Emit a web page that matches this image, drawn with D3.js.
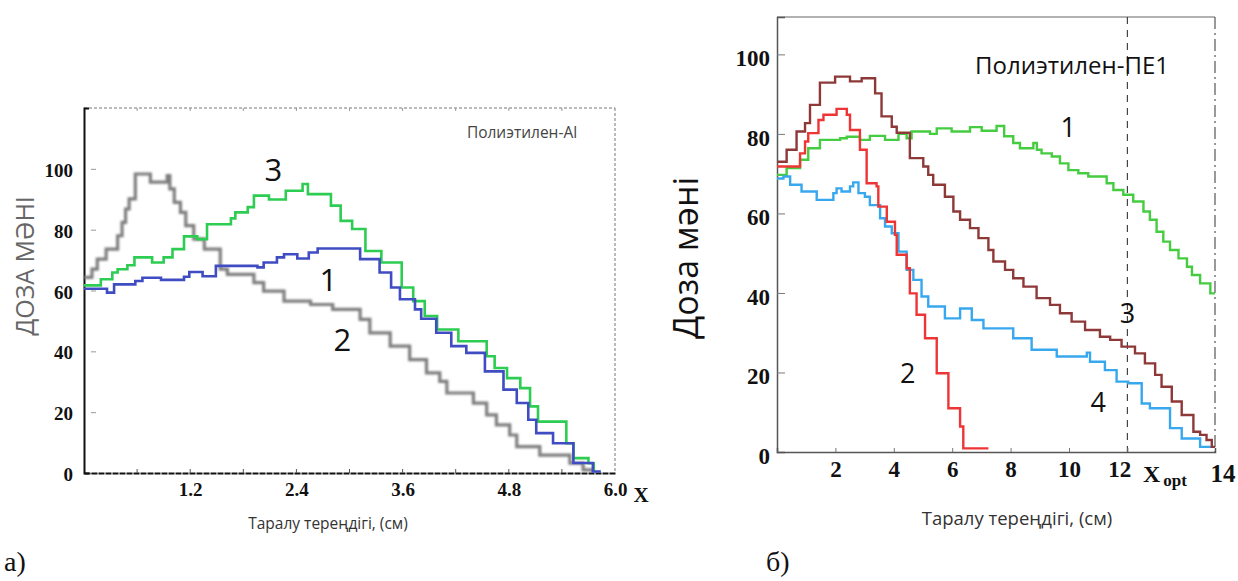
<!DOCTYPE html>
<html>
<head>
<meta charset="utf-8">
<script src="https://cdn.jsdelivr.net/npm/d3@7/dist/d3.min.js"></script>
<style>
  body { margin: 0; background: #fff; }
  svg { display: block; }
  .tick-num { font-family: "Liberation Serif", "Times New Roman", serif; font-weight: bold; fill: #111; }
  .sans { font-family: "Open Sans", "Noto Sans", sans-serif; }
</style>
</head>
<body>
<div id="chart"></div>
<script>
// ---- data, panel a) Полиэтилен-Al : [depth, dose] step starts
var alCurve1 = [[0,60.6],[0.26,59.3],[0.34,62],[0.58,63.1],[0.66,64.2],[0.87,63.5],[1.13,64.5],[1.19,66.1],[1.34,64.7],[1.49,68.1],[1.96,67.6],[2.03,69.2],[2.18,70.9],[2.26,71.9],[2.41,70.5],[2.54,72.5],[2.64,73.8],[3.12,70.3],[3.34,65.9],[3.47,61],[3.57,57.1],[3.74,53.8],[3.81,50.7],[3.98,46.1],[4.15,41.7],[4.32,39.5],[4.53,33.4],[4.74,27.4],[4.89,23],[5.02,17.5],[5.11,13.1],[5.3,9.8],[5.53,3.3],[5.75,0.5],[5.84,0.5]];
var alCurve2 = [[0,64.3],[0.09,67],[0.15,70.3],[0.25,73.6],[0.38,78],[0.43,82.4],[0.47,86.8],[0.51,90.1],[0.58,98.3],[0.75,95.6],[0.94,97.8],[0.97,93.4],[1.02,89],[1.09,85.7],[1.15,81.3],[1.24,76.9],[1.36,73.6],[1.54,67],[1.62,65.3],[1.92,62.6],[2.03,59.8],[2.26,56.5],[2.56,55.4],[2.81,53.8],[3.12,50.5],[3.23,46.1],[3.46,41.7],[3.68,37.3],[3.87,32.9],[4.02,30.1],[4.1,26.3],[4.4,23],[4.55,19.1],[4.66,15.8],[4.81,12.5],[4.89,8.7],[5.15,5.9],[5.49,3.2],[5.64,1],[5.74,0.3]];
var alCurve3 = [[0,61.7],[0.19,63.7],[0.32,65.9],[0.38,67],[0.49,68.3],[0.57,70.9],[0.77,69.2],[0.9,70.9],[1.0,73.6],[1.13,77.8],[1.28,76.9],[1.39,81.8],[1.66,83.7],[1.71,85.7],[1.85,87.4],[1.92,91.2],[2.09,89.9],[2.28,92.8],[2.47,95],[2.53,91.7],[2.79,87.9],[2.9,82.9],[3.03,80.2],[3.18,73],[3.36,69.2],[3.59,61],[3.72,56.5],[3.85,51.6],[3.99,47.2],[4.23,43.3],[4.55,38.4],[4.64,34.5],[4.78,31.2],[4.93,27.9],[5.04,21.9],[5.13,16.9],[5.45,9.8],[5.53,4.9],[5.7,3.2],[5.76,0.5]];

// ---- data, panel б) Полиэтилен-ПЕ1
var peCurve1 = [[0,69.7],[0.33,71.4],[0.79,73.5],[1.07,76.4],[1.47,78.5],[2.16,78.9],[2.39,79.3],[2.84,78.5],[3.18,79.5],[3.7,78.5],[4.16,80],[4.44,78.9],[4.61,80.6],[5.24,80],[5.47,81.4],[5.98,80.6],[6.61,81.7],[7.01,80.8],[7.52,82],[7.78,79.4],[8.09,77.7],[8.32,76.4],[8.78,77.7],[8.9,76],[9.06,75.1],[9.41,74.3],[9.69,72.6],[9.98,70.9],[10.32,70.1],[10.66,69.3],[11.29,67.6],[11.52,65.9],[11.86,64.7],[12.2,63],[12.55,60.5],[12.77,58.4],[13.0,55.4],[13.23,52.9],[13.46,50.8],[13.75,48.7],[14.04,46.6],[14.21,44.5],[14.49,42.4],[14.84,39.9],[15,39.9]];
var peCurve2 = [[0,71.8],[0.79,75.1],[0.96,78.1],[1.07,80.2],[1.42,83.5],[1.59,84.8],[2.04,86.3],[2.39,84.8],[2.5,81],[2.84,76],[3.07,67.6],[3.41,66.8],[3.47,61.7],[3.76,57.9],[4.04,54.6],[4.1,49.6],[4.44,46.2],[4.55,39.9],[4.78,34.5],[5.07,28.6],[5.47,19.8],[5.87,11],[6.27,6.4],[6.38,0.9],[7.24,0.9]];
var peCurve3 = [[0,73],[0.33,76],[0.67,80.6],[0.96,82.7],[1.13,87.3],[1.47,92.9],[1.99,94.4],[2.5,93.2],[2.9,94],[3.36,90.2],[3.58,84.4],[3.93,81.8],[4.1,80.3],[4.55,73.9],[5.01,71.8],[5.18,69.7],[5.35,67.2],[5.75,64.2],[6.04,60.5],[6.27,58.4],[6.61,56.3],[6.9,53.8],[7.24,50.8],[7.41,47.9],[7.81,45.8],[8.09,43.7],[8.44,41.6],[8.89,38.7],[9.35,37],[9.69,34.9],[10.09,32.8],[10.55,30.7],[11.06,29],[11.41,28.2],[11.8,26.5],[12.26,24.8],[12.6,22.3],[12.95,19.4],[13.17,16.4],[13.52,12.7],[13.86,9.3],[14.26,5.1],[14.49,4.3],[14.71,3],[14.89,1.3],[15,1.3]];
var peCurve4 = [[0,68.8],[0.22,69.3],[0.45,67.2],[0.84,65.5],[1.36,63.4],[1.93,65.1],[2.04,66.3],[2.21,65.5],[2.5,66.8],[2.61,67.8],[2.79,65.1],[3.01,64.2],[3.18,62.1],[3.53,58.8],[3.7,56.7],[3.93,55],[4.16,50.4],[4.44,45.8],[4.67,43.3],[4.95,39.1],[5.18,36.6],[5.75,33.6],[6.27,36.1],[6.67,33.2],[7.07,31.1],[8.09,28.6],[8.72,25.7],[9.58,24],[10.61,25],[10.72,22.7],[11.23,20.6],[11.63,17.7],[12.03,17.3],[12.49,12.2],[12.77,11],[13.46,6],[13.86,3.4],[14.49,1.3],[14.89,1.3]];

// ticks / labels
var alXTicks = [1.2, 2.4, 3.6, 4.8, 6.0];
var alXMinor = [0.6, 1.2, 1.8, 2.4, 3.0, 3.6, 4.2, 4.8, 5.4];
var alYTicks = [0, 20, 40, 60, 80, 100];
var peXTicks = [2, 4, 6, 8, 10, 12];
var peYTicks = [0, 20, 40, 60, 80, 100];
var peXopt = 12;
// curve number labels [label, depth, dose]
var alLabels = [["3", 2.14, 100], ["1", 2.76, 63.7], ["2", 2.92, 44.2]];
var peLabels = [["1", 9.97, 81.8], ["3", 12.0, 35.2], ["4", 11.0, 12.6], ["2", 4.48, 20.1]];

var W = 1238, H = 581;

var svg = d3.select("#chart").append("svg")
  .attr("width", W)
  .attr("height", H);

var defs = svg.append("defs");
defs.append("filter").attr("id", "soft")
  .append("feGaussianBlur").attr("stdDeviation", 0.8);

// ================= panel a)
var xa = d3.scaleLinear().domain([0, 6]).range([84, 615]);
var ya = d3.scaleLinear().domain([0, 120]).range([473, 108]);

var ga = svg.append("g");

// frame: dashed top and right
ga.append("line")
  .attr("x1", xa(0)).attr("x2", xa(6)).attr("y1", ya(120)).attr("y2", ya(120))
  .attr("stroke", "#777").attr("stroke-width", 1).attr("stroke-dasharray", "3,2");
ga.append("line")
  .attr("x1", xa(6)).attr("x2", xa(6)).attr("y1", ya(120)).attr("y2", ya(0))
  .attr("stroke", "#777").attr("stroke-width", 1).attr("stroke-dasharray", "3,2");
// top minor ticks
ga.selectAll(".top-tick")
  .data(alXMinor)
  .enter().append("line")
  .attr("x1", function(d) { return xa(d); })
  .attr("x2", function(d) { return xa(d); })
  .attr("y1", ya(120)).attr("y2", ya(120) + 3)
  .attr("stroke", "#999");

// y axis
var yAxisA = d3.axisLeft(ya).tickValues(alYTicks).tickSize(-5).tickPadding(11);
ga.append("g")
  .attr("transform", "translate(" + xa(0) + ",0)")
  .call(yAxisA)
  .call(function(g) {
    g.select(".domain").attr("stroke", "#111").attr("stroke-width", 2);
    g.selectAll(".tick line").attr("stroke", "#999").attr("transform", "translate(7,0)");
    g.selectAll("text").attr("class", "tick-num").style("font-size", "19px").attr("dy", "0.4em");
  });

// x axis
var xAxisA = d3.axisBottom(xa).tickValues(alXTicks).tickFormat(d3.format(".1f")).tickSize(0).tickPadding(10);
ga.append("g")
  .attr("transform", "translate(0," + ya(0) + ")")
  .call(xAxisA)
  .call(function(g) {
    g.select(".domain").attr("stroke", "#111").attr("stroke-width", 2).attr("stroke-dasharray", "6,1");
    g.selectAll("text").attr("class", "tick-num").style("font-size", "19px");
  });
ga.selectAll(".bot-tick")
  .data(alXMinor)
  .enter().append("line")
  .attr("x1", function(d) { return xa(d); })
  .attr("x2", function(d) { return xa(d); })
  .attr("y1", ya(0)).attr("y2", ya(0) - 4)
  .attr("stroke", "#555");

var stepA = d3.line()
  .x(function(d) { return xa(d[0]); })
  .y(function(d) { return ya(d[1]); })
  .curve(d3.curveStepAfter);

ga.append("path").datum(alCurve2)
  .attr("d", stepA).attr("fill", "none")
  .attr("stroke", "#7e7e7e").attr("stroke-width", 3.2)
  .attr("filter", "url(#soft)");
ga.append("path").datum(alCurve3)
  .attr("d", stepA).attr("fill", "none")
  .attr("stroke", "#2dcc52").attr("stroke-width", 2.6);
ga.append("path").datum(alCurve1)
  .attr("d", stepA).attr("fill", "none")
  .attr("stroke", "#3f4cc2").attr("stroke-width", 2.6);

ga.selectAll(".curve-label")
  .data(alLabels)
  .enter().append("text")
  .attr("class", "sans")
  .attr("x", function(d) { return xa(d[1]); })
  .attr("y", function(d) { return ya(d[2]); })
  .attr("text-anchor", "middle")
  .attr("dominant-baseline", "central")
  .style("font-size", "31px")
  .style("fill", "#111")
  .text(function(d) { return d[0]; });

ga.append("text").attr("class", "sans")
  .attr("x", 522).attr("y", 138)
  .attr("text-anchor", "middle")
  .style("font-size", "15.5px").style("fill", "#444")
  .text("Полиэтилен-Al");

ga.append("text").attr("class", "sans")
  .attr("transform", "translate(34,266) rotate(-90)")
  .attr("text-anchor", "middle")
  .style("font-size", "25px").style("fill", "#666")
  .text("ДОЗА МӘНІ");

ga.append("text")
  .attr("x", 641).attr("y", 502)
  .attr("text-anchor", "middle")
  .style("font-family", "Liberation Serif, serif").style("font-weight", "bold")
  .style("font-size", "21px").style("fill", "#111")
  .text("X");

ga.append("text").attr("class", "sans")
  .attr("x", 328).attr("y", 529)
  .attr("text-anchor", "middle")
  .style("font-size", "15.5px").style("fill", "#333")
  .text("Таралу тереңдігі, (см)");

ga.append("text")
  .attr("x", 4).attr("y", 571)
  .style("font-family", "Liberation Serif, serif")
  .style("font-size", "28px").style("fill", "#111")
  .text("а)");

// ================= panel б)
var xb = d3.scaleLinear().domain([0, 15]).range([777, 1215]);
var yb = d3.scaleLinear().domain([0, 109.4]).range([452, 17]);

var gb = svg.append("g");

gb.append("line")
  .attr("x1", xb(0)).attr("x2", xb(15)).attr("y1", yb(109.4)).attr("y2", yb(109.4))
  .attr("stroke", "#666").attr("stroke-width", 1.2);
gb.append("line")
  .attr("x1", xb(15)).attr("x2", xb(15)).attr("y1", yb(109.4)).attr("y2", yb(0))
  .attr("stroke", "#555").attr("stroke-width", 1.2).attr("stroke-dasharray", "12,4,2,4");
gb.append("line")
  .attr("x1", xb(peXopt)).attr("x2", xb(peXopt)).attr("y1", yb(109.4)).attr("y2", yb(0))
  .attr("stroke", "#444").attr("stroke-width", 1.2).attr("stroke-dasharray", "7,6");

var yAxisB = d3.axisLeft(yb).tickValues(peYTicks).tickSize(-8).tickPadding(7);
gb.append("g")
  .attr("transform", "translate(" + xb(0) + ",0)")
  .call(yAxisB)
  .call(function(g) {
    g.select(".domain").attr("stroke", "#555").attr("stroke-width", 1.5);
    g.selectAll(".tick line").attr("stroke", "#777");
    g.selectAll("text").attr("class", "tick-num").style("font-size", "23px").attr("dy", "0.5em");
  });

var xAxisB = d3.axisBottom(xb).tickValues(peXTicks).tickSize(-4).tickPadding(9);
gb.append("g")
  .attr("transform", "translate(0," + yb(0) + ")")
  .call(xAxisB)
  .call(function(g) {
    g.select(".domain").attr("stroke", "#555").attr("stroke-width", 1.5);
    g.selectAll(".tick line").attr("stroke", "#777");
    g.selectAll("text").attr("class", "tick-num").style("font-size", "23px")
      .attr("dx", function(d) { return d === peXopt ? "-0.35em" : 0; });
  });

gb.append("text")
  .attr("x", xb(15) + 8).attr("y", yb(0) + 30)
  .attr("text-anchor", "middle")
  .attr("class", "tick-num")
  .style("font-size", "25px")
  .text("14");

var xopt = gb.append("text")
  .attr("x", 1143).attr("y", yb(0) + 30)
  .style("font-family", "Liberation Serif, serif").style("font-weight", "bold")
  .style("fill", "#111");
xopt.append("tspan").style("font-size", "24px").text("X");
xopt.append("tspan").attr("dx", 3).attr("dy", 4).style("font-size", "17px").text("opt");

var stepB = d3.line()
  .x(function(d) { return xb(d[0]); })
  .y(function(d) { return yb(d[1]); })
  .curve(d3.curveStepAfter);

var peSeries = [
  { data: peCurve1, color: "#46cc40" },
  { data: peCurve4, color: "#38a8ee" },
  { data: peCurve3, color: "#8e3838" },
  { data: peCurve2, color: "#ee3535" }
];

gb.selectAll(".pe-curve")
  .data(peSeries)
  .enter().append("path")
  .attr("class", "pe-curve")
  .attr("d", function(d) { return stepB(d.data); })
  .attr("fill", "none")
  .attr("stroke", function(d) { return d.color; })
  .attr("stroke-width", 2.4);

gb.selectAll(".curve-label")
  .data(peLabels)
  .enter().append("text")
  .attr("class", "sans")
  .attr("x", function(d) { return xb(d[1]); })
  .attr("y", function(d) { return yb(d[2]); })
  .attr("text-anchor", "middle")
  .attr("dominant-baseline", "central")
  .style("font-size", "27px")
  .style("fill", "#111")
  .text(function(d) { return d[0]; });

gb.append("text").attr("class", "sans")
  .attr("x", 1072).attr("y", 74)
  .attr("text-anchor", "middle")
  .style("font-size", "24px").style("fill", "#111")
  .text("Полиэтилен-ПЕ1");

gb.append("text").attr("class", "sans")
  .attr("transform", "translate(698,258) rotate(-90)")
  .attr("text-anchor", "middle")
  .style("font-size", "34px").style("fill", "#111")
  .text("Доза мәні");

gb.append("text").attr("class", "sans")
  .attr("x", 1017).attr("y", 525)
  .attr("text-anchor", "middle")
  .style("font-size", "18.5px").style("fill", "#333")
  .text("Таралу тереңдігі, (см)");

gb.append("text")
  .attr("x", 766).attr("y", 571)
  .style("font-family", "Liberation Serif, serif")
  .style("font-size", "28px").style("fill", "#111")
  .text("б)");
</script>
</body>
</html>
